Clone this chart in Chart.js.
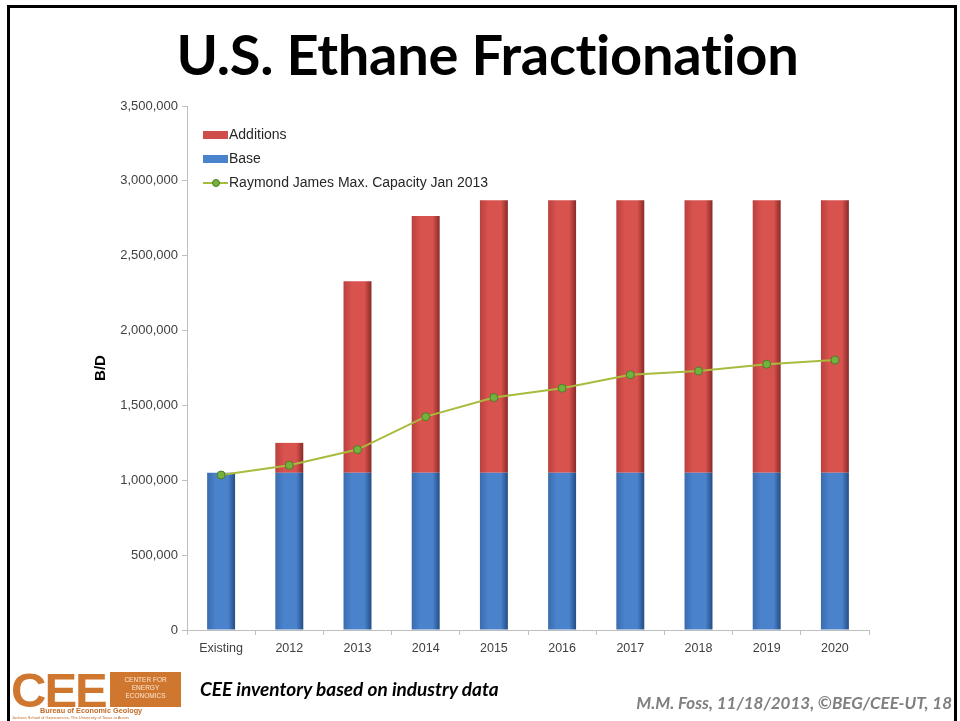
<!DOCTYPE html>
<html>
<head>
<meta charset="utf-8">
<script src="https://cdn.jsdelivr.net/npm/chart.js@4/dist/chart.umd.min.js"></script>
<style>
  html, body { margin: 0; padding: 0; background: #fff; }
  #slide { position: relative; width: 960px; height: 721px; overflow: hidden; background: #fff; }
  #frame { position: absolute; left: 7px; top: 5px; width: 950px; height: 730px; border: 3px solid #000; border-bottom: none; box-sizing: border-box; }
  #chart { position: absolute; left: 0; top: 0; }
  #title { position: absolute; left: 0; width: 975px; top: 20px; text-align: center;
           font-family: Lato, "Open Sans", sans-serif; font-weight: 700; font-size: 56px; color: #000; letter-spacing: -0.3px; white-space: nowrap; }
  #legend { position: absolute; left: 203px; top: 124px; font-family: "Liberation Sans", Arial, sans-serif; font-size: 14px; color: #262626; }
  .item { position: relative; height: 24px; line-height: 20px; padding-left: 26px; white-space: nowrap; }
  .sw { position: absolute; left: 0; top: 7px; width: 25px; height: 8px; }
  .ln { position: absolute; left: 0; top: 10px; width: 25px; height: 2px; }
  .dot { position: absolute; left: 9px; top: 7px; width: 6px; height: 6px; border-radius: 50%; }
  #note { position: absolute; left: 200px; top: 677px; font-family: Lato, "Open Sans", sans-serif; font-style: italic; font-weight: 700; font-size: 19px; color: #000; white-space: nowrap; }
  #credit { position: absolute; right: 8px; top: 692px; font-family: Lato, "Open Sans", sans-serif; font-style: italic; font-weight: 700; font-size: 17px; color: #7f7f7f; white-space: nowrap; }
  #logo { position: absolute; left: 10px; top: 671px; width: 172px; height: 48px; }
  #logo .cee { position: absolute; left: 1px; top: -5px; font-family: "Liberation Sans", Arial, sans-serif; font-weight: 700; font-size: 49px; color: #d0772f; letter-spacing: -2px; line-height: 49px; }
  #logo .box { position: absolute; left: 100px; top: 1px; width: 71px; height: 35px; background: #d0772f; color: #fbe6d2;
               font-family: "Liberation Sans", Arial, sans-serif; font-size: 6.5px; line-height: 8px; text-align: center; padding-top: 4px; box-sizing: border-box; }
  #logo .beg { position: absolute; left: 30px; top: 35px; font-family: "Liberation Sans", Arial, sans-serif; font-weight: 700; font-size: 7.3px; color: #c06a28; white-space: nowrap; }
  #logo .sub { position: absolute; left: 2px; top: 44px; font-family: "Liberation Sans", Arial, sans-serif; font-size: 4px; color: #c06a28; white-space: nowrap; }
</style>
</head>
<body>
<div id="slide">
  <canvas id="chart" width="960" height="721"></canvas>
  <div id="frame"></div>
  <div id="title">U.S. Ethane Fractionation</div>
  <div id="legend"></div>
  <div id="logo">
    <div class="cee">CEE</div>
    <div class="box">CENTER FOR<br>ENERGY<br>ECONOMICS</div>
    <div class="beg">Bureau of Economic Geology</div>
    <div class="sub">Jackson School of Geosciences, The University of Texas at Austin</div>
  </div>
  <div id="note">CEE inventory based on industry data</div>
  <div id="credit">M.M. Foss, 11/18/2013, ©BEG/CEE-UT, 18</div>
</div>
<script>
// Fractionation capacity, barrels per day
const categories = ['Existing', '2012', '2013', '2014', '2015', '2016', '2017', '2018', '2019', '2020'];
const baseCapacity = [1050000, 1050000, 1050000, 1050000, 1050000, 1050000, 1050000, 1050000, 1050000, 1050000];
const additions = [0, 200000, 1280000, 1715000, 1820000, 1820000, 1820000, 1820000, 1820000, 1820000];
const raymondJamesMax = [1035000, 1100000, 1205000, 1425000, 1553000, 1615000, 1705000, 1730000, 1775000, 1803000];
const yTicks = [0, 500000, 1000000, 1500000, 2000000, 2500000, 3000000, 3500000];

const BAR_PCT = 0.41;

// Cylinder-like shading across each bar
function barShade(edgeL, face, edgeR) {
  return (ctx) => {
    const chart = ctx.chart;
    const xs = chart.scales && chart.scales.x;
    if (!xs || ctx.dataIndex === undefined || !chart.chartArea) return face;
    const cx = xs.getPixelForValue(ctx.dataIndex);
    const half = (chart.chartArea.width / categories.length) * BAR_PCT / 2;
    const g = chart.ctx.createLinearGradient(cx - half, 0, cx + half, 0);
    g.addColorStop(0, edgeL);
    g.addColorStop(0.3, face);
    g.addColorStop(0.75, face);
    g.addColorStop(1, edgeR);
    return g;
  };
}

const datasets = [
  {
    type: 'line',
    label: 'Raymond James Max. Capacity Jan 2013',
    data: raymondJamesMax,
    stack: 'rj',
    order: 0,
    borderColor: '#a9bb3c',
    borderWidth: 2,
    pointRadius: 4,
    pointBackgroundColor: '#74b13e',
    pointBorderColor: '#4d7d28',
    pointBorderWidth: 1,
    tension: 0
  },
  {
    type: 'bar',
    label: 'Base',
    data: baseCapacity,
    stack: 'cap',
    order: 1,
    backgroundColor: barShade('#3a6cae', '#4a82cc', '#234d85'),
    legendColor: '#4a82cc',
    borderWidth: 0
  },
  {
    type: 'bar',
    label: 'Additions',
    data: additions,
    stack: 'cap',
    order: 1,
    backgroundColor: barShade('#b9413e', '#d8524e', '#8a2a28'),
    legendColor: '#d04e4a',
    borderWidth: 0
  }
];

const chart = new Chart(document.getElementById('chart'), {
  data: { labels: categories, datasets },
  options: {
    responsive: false,
    animation: false,
    devicePixelRatio: 1,
    datasets: { bar: { barPercentage: BAR_PCT, categoryPercentage: 1 } },
    layout: { padding: { left: 92, right: 91, top: 106, bottom: 61 } },
    plugins: { legend: { display: false }, tooltip: { enabled: false } },
    scales: {
      x: {
        stacked: true,
        offset: true,
        afterFit: (s) => { s.height = 30; },
        grid: { offset: true, drawOnChartArea: false, tickLength: 5, color: '#bfbfbf' },
        border: { color: '#bfbfbf' },
        ticks: { color: '#404040', padding: 6, font: { family: '"Liberation Sans", Arial, sans-serif', size: 12.5 } }
      },
      y: {
        stacked: true,
        min: 0,
        max: 3500000,
        afterFit: (s) => { s.width = 95; },
        afterBuildTicks: (s) => { s.ticks = yTicks.map(v => ({ value: v })); },
        grid: { drawOnChartArea: false, tickLength: 5, color: '#bfbfbf' },
        border: { color: '#bfbfbf' },
        title: { display: true, text: 'B/D', color: '#000', padding: 0,
                 font: { family: '"Liberation Sans", Arial, sans-serif', size: 15, weight: 'bold' } },
        ticks: {
          color: '#404040', padding: 4,
          font: { family: '"Liberation Sans", Arial, sans-serif', size: 13 },
          callback: (v) => Number(v).toLocaleString('en-US')
        }
      }
    }
  }
});

// Legend listing Additions, Base, then the capacity line
const legend = document.getElementById('legend');
[datasets[2], datasets[1], datasets[0]].forEach(ds => {
  const row = document.createElement('div');
  row.className = 'item';
  if (ds.type === 'bar') {
    const sw = document.createElement('span');
    sw.className = 'sw';
    sw.style.background = ds.legendColor;
    row.appendChild(sw);
  } else {
    const ln = document.createElement('span');
    ln.className = 'ln';
    ln.style.background = ds.borderColor;
    const dot = document.createElement('span');
    dot.className = 'dot';
    dot.style.background = ds.pointBackgroundColor;
    dot.style.border = '1px solid ' + ds.pointBorderColor;
    row.appendChild(ln);
    row.appendChild(dot);
  }
  row.appendChild(document.createTextNode(ds.label));
  legend.appendChild(row);
});
</script>
</body>
</html>
